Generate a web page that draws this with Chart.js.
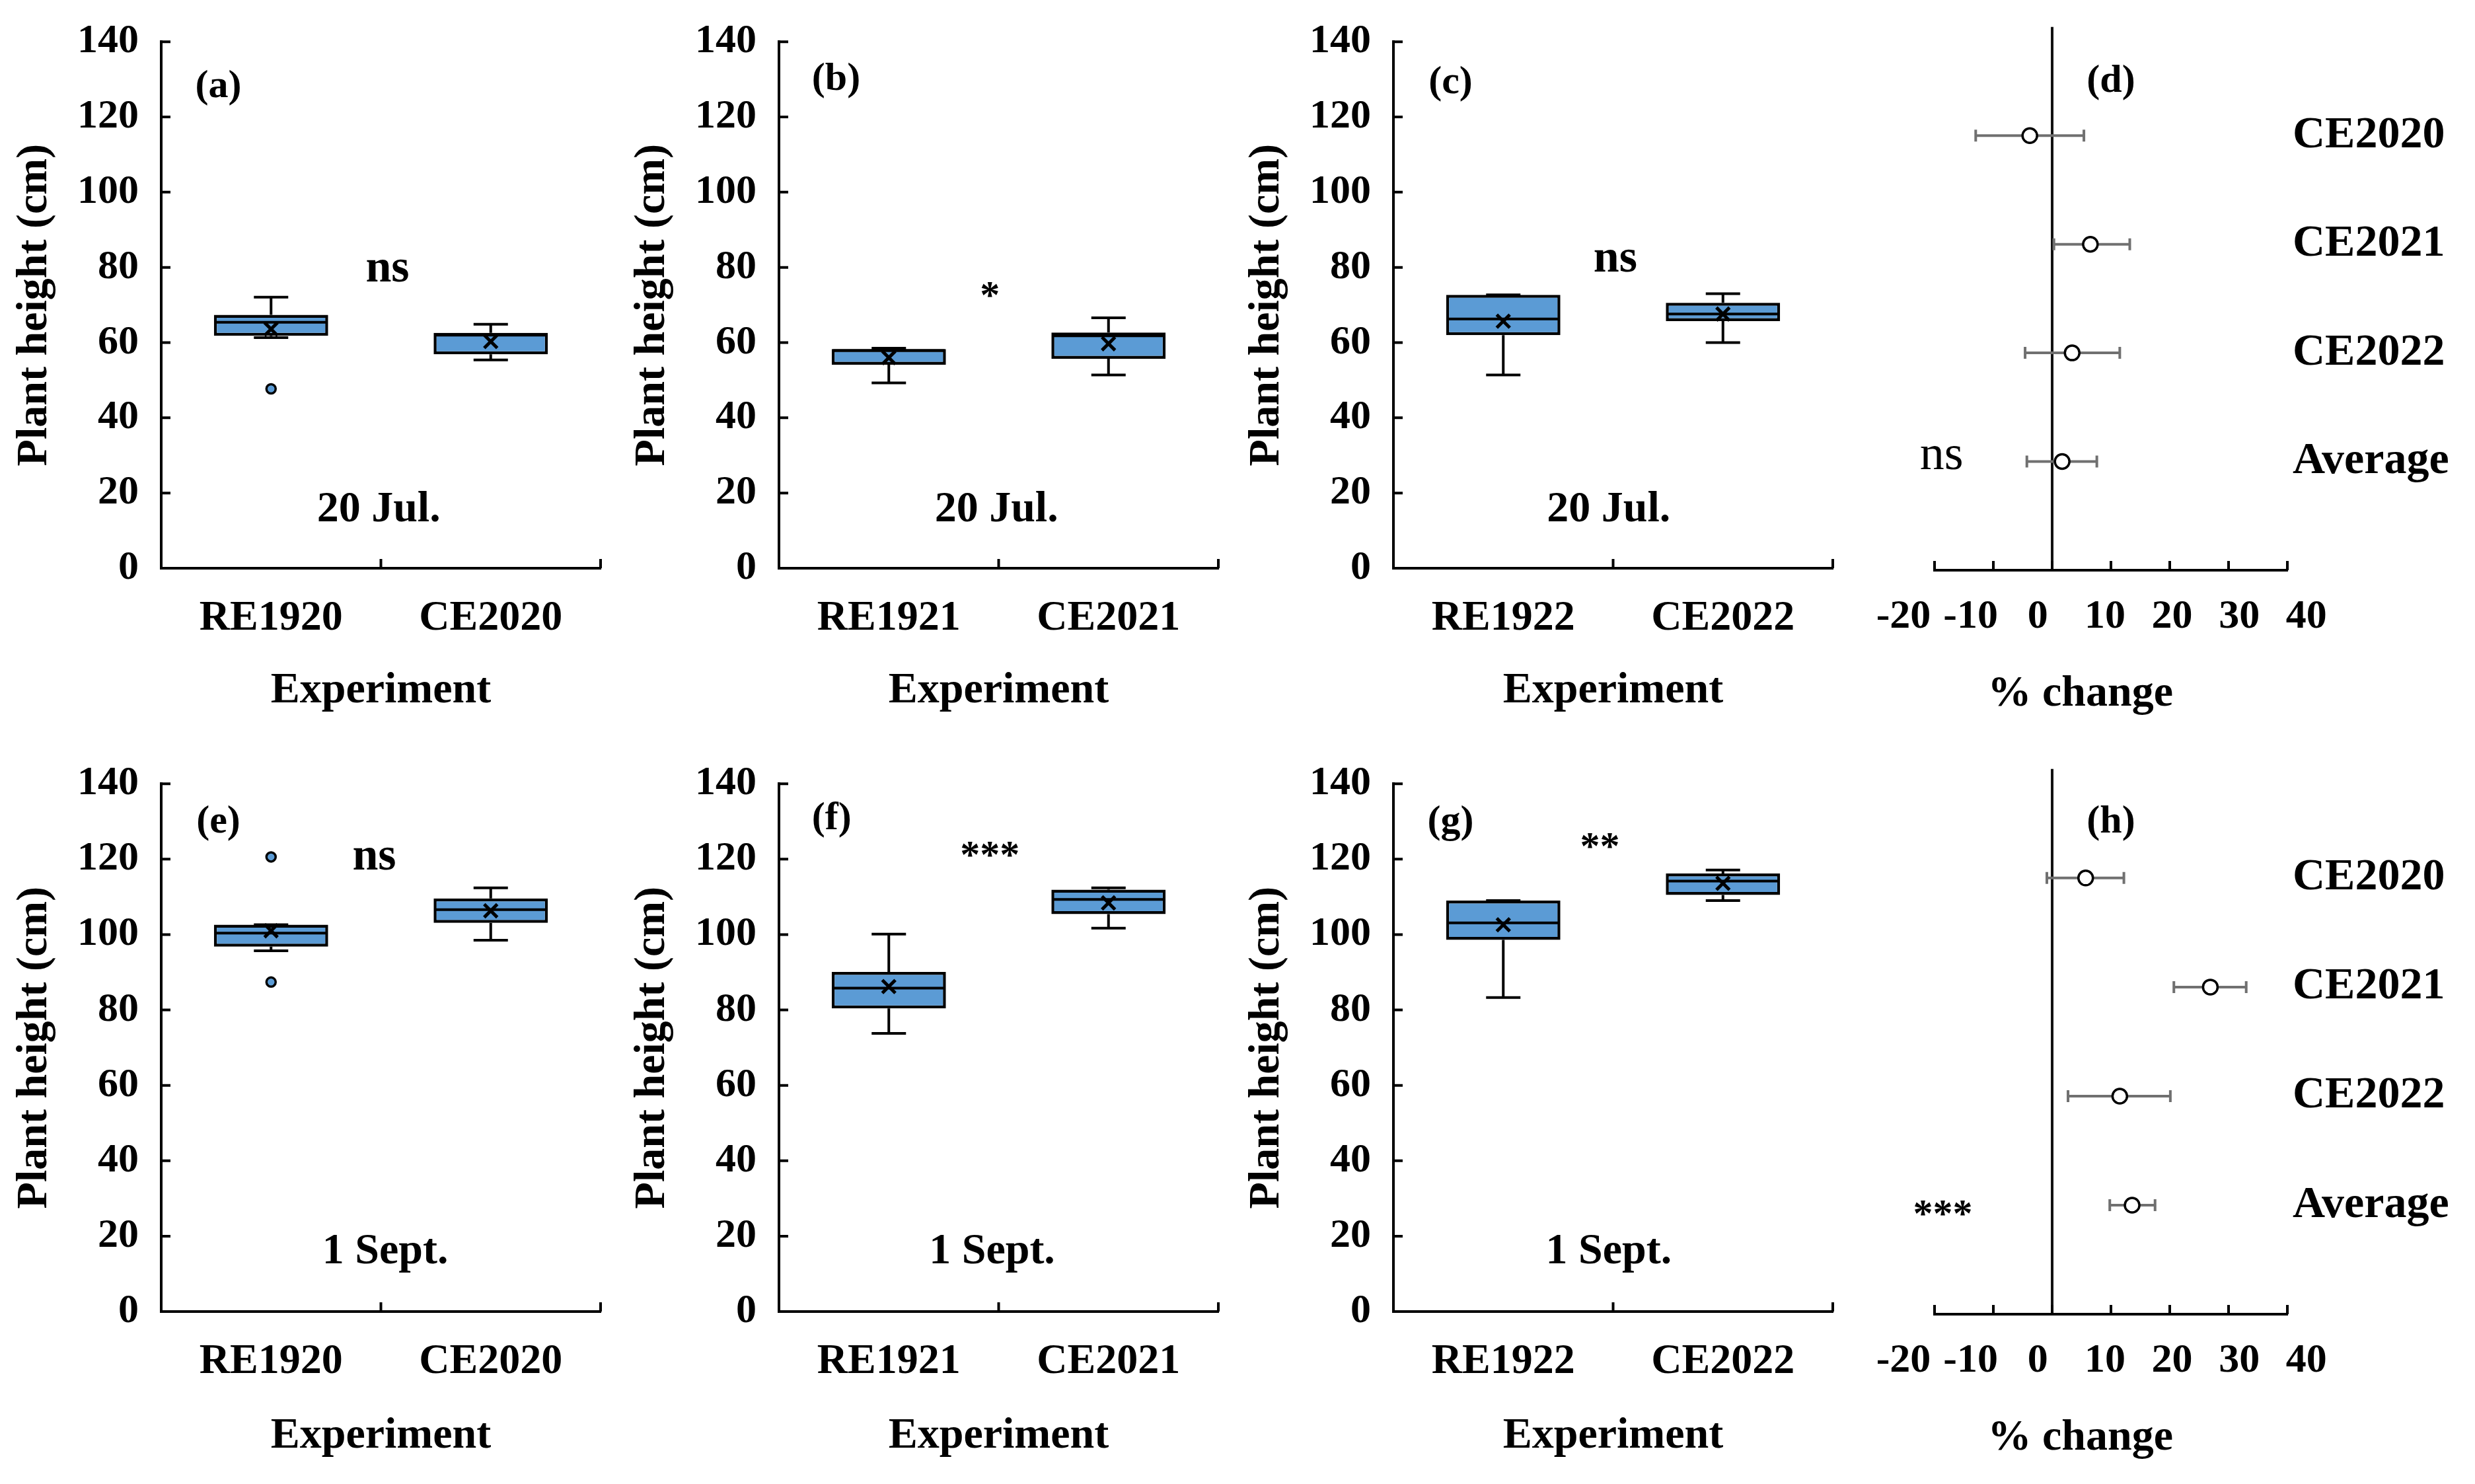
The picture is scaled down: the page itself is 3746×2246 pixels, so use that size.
<!DOCTYPE html>
<html>
<head>
<meta charset="utf-8">
<script src="https://cdn.jsdelivr.net/npm/chart.js@4.4.1/dist/chart.umd.min.js"></script>
<style>
    html, body { margin: 0; padding: 0; background: #fff; }
    #fig { position: relative; width: 3746px; height: 2246px; overflow: hidden; background: #fff; }
    #fig canvas { position: absolute; }
</style>
</head>
<body>
<div id="fig"></div>
<script>
// ---------- data ----------
const experimentLabels = [["RE1920", "CE2020"], ["RE1921", "CE2021"], ["RE1922", "CE2022"]];
const heightTicks = [0, 20, 40, 60, 80, 100, 120, 140];

// 20 Jul. (panels a-c)
const julMin = [[61.3, 55.4], [49.3, 51.4], [51.4, 60.0]];
const julQ1 = [[61.8, 56.9], [54.1, 55.7], [62.0, 65.7]];
const julMedian = [[65.4, 62.0], [57.9, 61.8], [66.3, 67.6]];
const julQ3 = [[67.4, 62.6], [58.3, 62.7], [72.7, 70.6]];
const julMax = [[72.1, 64.9], [58.5, 66.6], [72.7, 73.0]];
const julMean = [[63.6, 60.3], [56.0, 59.7], [65.7, 67.6]];
const julOutliers = [[[47.7], []], [[], []], [[], []]];

// 1 Sept. (panels e-g)
const sepMin = [[95.7, 98.5], [73.8, 101.7], [83.3, 109.0]];
const sepQ1 = [[96.8, 103.1], [80.4, 105.4], [98.6, 110.5]];
const sepMedian = [[100.4, 106.6], [85.8, 109.3], [103.1, 114.2]];
const sepQ3 = [[102.6, 109.6], [90.1, 111.9], [109.0, 116.2]];
const sepMax = [[102.6, 112.4], [100.1, 112.4], [109.0, 117.1]];
const sepMean = [[101.0, 106.3], [86.2, 108.4], [102.6, 113.6]];
const sepOutliers = [[[120.6, 87.4], []], [[], []], [[], []]];

// % change (panels d, h)
const changeLabels = ["CE2020", "CE2021", "CE2022", "Average"];
const changeTicks = [-20, -10, 0, 10, 20, 30, 40];
const julChange = [-3.8, 6.5, 3.4, 1.7];
const julChangeLow = [-13.0, 0.3, -4.6, -4.3];
const julChangeHigh = [5.4, 13.2, 11.5, 7.6];
const sepChange = [5.7, 26.9, 11.5, 13.6];
const sepChangeLow = [-0.9, 20.7, 2.7, 9.8];
const sepChangeHigh = [12.2, 33.0, 20.1, 17.5];

// ---------- look ----------
const FONT = "'Liberation Serif', 'Times New Roman', serif";
const BOX_BLUE = "#5B9BD5";
Chart.defaults.font.family = FONT;
Chart.defaults.font.weight = "bold";
Chart.defaults.color = "#000";

const fig = document.getElementById("fig");
const rowTop = [0, 1123];
const axisLeft = [244, 1179, 2109]; // x of each box panel's y axis
const ROW_H = 1123;

function makeCanvas(left, top, w, h) {
    const c = document.createElement("canvas");
    c.width = w;
    c.height = h;
    c.style.left = left + "px";
    c.style.top = top + "px";
    c.style.width = w + "px";
    c.style.height = h + "px";
    fig.appendChild(c);
    return c;
}

function drawNotes(ctx, xs, ys, notes) {
    ctx.save();
    ctx.fillStyle = "#000";
    ctx.textAlign = "center";
    ctx.textBaseline = "middle";
    notes.forEach(n => {
        ctx.font = `${n.weight || "bold"} ${n.size}px ${FONT}`;
        ctx.fillText(n.text, xs.getPixelForValue(n.x), ys.getPixelForValue(n.y));
    });
    ctx.restore();
}

// box-plot pieces the bar element does not draw: whiskers, medians, inward ticks, notes
function boxParts(p) {
    return {
        id: "boxParts",
        beforeDatasetsDraw(chart) {
            const { ctx, scales: { x, y } } = chart;
            ctx.save();
            ctx.strokeStyle = "#000";
            ctx.lineWidth = 4;
            p.labels.forEach((_, i) => {
                const cx = x.getPixelForValue(i);
                ctx.beginPath();
                ctx.moveTo(cx, y.getPixelForValue(p.q3[i]));
                ctx.lineTo(cx, y.getPixelForValue(p.max[i]));
                ctx.moveTo(cx, y.getPixelForValue(p.q1[i]));
                ctx.lineTo(cx, y.getPixelForValue(p.min[i]));
                [p.max[i], p.min[i]].forEach(v => {
                    const py = y.getPixelForValue(v);
                    ctx.moveTo(cx - 26, py);
                    ctx.lineTo(cx + 26, py);
                });
                ctx.stroke();
            });
            ctx.restore();
        },
        afterDatasetsDraw(chart) {
            const { ctx, scales: { y } } = chart;
            const meta = chart.getDatasetMeta(2);
            ctx.save();
            ctx.strokeStyle = "#000";
            ctx.lineWidth = 4;
            meta.data.forEach((bar, i) => {
                const py = y.getPixelForValue(p.median[i]);
                ctx.beginPath();
                ctx.moveTo(bar.x - bar.width / 2 + 2, py);
                ctx.lineTo(bar.x + bar.width / 2 - 2, py);
                ctx.stroke();
            });
            ctx.restore();
        },
        afterDraw(chart) {
            const { ctx, chartArea: a, scales: { x, y } } = chart;
            ctx.save();
            ctx.strokeStyle = "#000";
            ctx.lineWidth = 4;
            ctx.beginPath();
            heightTicks.forEach(v => {
                const py = y.getPixelForValue(v);
                ctx.moveTo(a.left, py);
                ctx.lineTo(a.left + 14, py);
            });
            [0.5, 1.5].forEach(v => {
                const px = x.getPixelForValue(v);
                ctx.moveTo(px, a.bottom);
                ctx.lineTo(px, a.bottom - 14);
            });
            ctx.stroke();
            ctx.restore();
            drawNotes(ctx, x, y, p.notes);
        }
    };
}

function boxPanel(row, col, p) {
    const top = rowTop[row];
    const padTop = row === 0 ? 53 : 57;
    const bottomAxis = row === 0 ? 860 : 862;
    const canvas = makeCanvas(axisLeft[col] - 244, top, 945, ROW_H);
    const outlierPoints = p.outliers.flatMap((arr, j) => arr.map(v => ({ x: p.labels[j], y: v })));
    new Chart(canvas, {
        type: "bar",
        data: {
            labels: p.labels,
            datasets: [
                {
                    type: "line",
                    data: p.mean,
                    showLine: false,
                    pointStyle: "crossRot",
                    pointRadius: 14,
                    borderColor: "#000",
                    borderWidth: 5,
                    order: 1
                },
                {
                    type: "line",
                    data: outlierPoints,
                    showLine: false,
                    pointStyle: "circle",
                    pointRadius: 7,
                    backgroundColor: BOX_BLUE,
                    borderColor: "#000",
                    borderWidth: 3.5,
                    order: 2
                },
                {
                    data: p.labels.map((_, i) => [p.q1[i], p.q3[i]]),
                    backgroundColor: BOX_BLUE,
                    borderColor: "#000",
                    borderWidth: 4.5,
                    borderSkipped: false,
                    barPercentage: 0.52,
                    categoryPercentage: 1,
                    order: 3
                }
            ]
        },
        options: {
            responsive: false,
            devicePixelRatio: 1,
            animation: false,
            events: [],
            layout: { padding: { left: 0, right: 36, top: padTop, bottom: 0 } },
            plugins: { legend: { display: false }, tooltip: { enabled: false } },
            scales: {
                x: {
                    offset: true,
                    grid: { display: false },
                    border: { display: true, color: "#000", width: 4 },
                    ticks: { font: { size: 64 }, padding: 30, maxRotation: 0, autoSkip: false },
                    title: { display: true, text: "Experiment", font: { size: 66 }, padding: { bottom: row === 0 ? 37 : 32 } },
                    afterFit: s => { s.height = ROW_H - bottomAxis; }
                },
                y: {
                    min: 0,
                    max: 140,
                    afterBuildTicks: s => { s.ticks = heightTicks.map(v => ({ value: v })); },
                    grid: { display: false },
                    border: { display: true, color: "#000", width: 4 },
                    ticks: { font: { size: 62 }, padding: 26 },
                    title: { display: true, text: "Plant height (cm)", font: { size: 66 }, padding: { top: 13 } },
                    afterFit: s => { s.width = 244; }
                }
            }
        },
        plugins: [boxParts(p)]
    });
}

// forest plot: zero line, error bars, inward ticks, tick labels, notes
function forestParts(p) {
    return {
        id: "forestParts",
        beforeDatasetsDraw(chart) {
            const { ctx, chartArea: a, scales: { x, y } } = chart;
            ctx.save();
            ctx.strokeStyle = "#111";
            ctx.lineWidth = 4;
            ctx.beginPath();
            ctx.moveTo(x.getPixelForValue(0), a.top);
            ctx.lineTo(x.getPixelForValue(0), a.bottom);
            ctx.stroke();
            ctx.strokeStyle = "#707070";
            ctx.lineWidth = 4;
            p.change.forEach((_, i) => {
                const py = y.getPixelForValue(i + 1);
                const x0 = x.getPixelForValue(p.low[i]);
                const x1 = x.getPixelForValue(p.high[i]);
                ctx.beginPath();
                ctx.moveTo(x0, py);
                ctx.lineTo(x1, py);
                ctx.moveTo(x0, py - 9);
                ctx.lineTo(x0, py + 9);
                ctx.moveTo(x1, py - 9);
                ctx.lineTo(x1, py + 9);
                ctx.stroke();
            });
            ctx.restore();
        },
        afterDraw(chart) {
            const { ctx, chartArea: a, scales: { x, y } } = chart;
            ctx.save();
            ctx.strokeStyle = "#000";
            ctx.lineWidth = 4;
            ctx.beginPath();
            changeTicks.forEach(v => {
                const px = x.getPixelForValue(v);
                ctx.moveTo(px, a.bottom);
                ctx.lineTo(px, a.bottom - 14);
            });
            ctx.stroke();
            // the tick labels in the figure sit on a slightly wider spacing than the tick marks
            ctx.fillStyle = "#000";
            ctx.textAlign = "center";
            ctx.textBaseline = "middle";
            ctx.font = `bold 62px ${FONT}`;
            changeTicks.forEach(v => {
                const px = a.left - 47 + (x.getPixelForValue(v) - a.left) * 1.142;
                ctx.fillText(String(v), px, a.bottom + 71);
            });
            ctx.font = `bold 66px ${FONT}`;
            ctx.fillText("% change", x.getPixelForValue(4.8), a.bottom + 188);
            ctx.restore();
            drawNotes(ctx, x, y, p.notes);
        }
    };
}

function forestPanel(row, p) {
    const padTop = row === 0 ? 32 : 37;
    const bottomAxis = row === 0 ? 863 : 866;
    const canvas = makeCanvas(2800, rowTop[row], 946, ROW_H);
    new Chart(canvas, {
        type: "scatter",
        data: {
            datasets: [{
                data: p.change.map((v, i) => ({ x: v, y: i + 1 })),
                pointStyle: "circle",
                pointRadius: 11,
                backgroundColor: "#fff",
                borderColor: "#000",
                borderWidth: 3.5
            }]
        },
        options: {
            responsive: false,
            devicePixelRatio: 1,
            animation: false,
            events: [],
            layout: { padding: { left: 128, right: 0, top: padTop, bottom: 0 } },
            plugins: { legend: { display: false }, tooltip: { enabled: false } },
            scales: {
                x: {
                    type: "linear",
                    min: -20,
                    max: 40,
                    grid: { display: false },
                    border: { display: true, color: "#000", width: 4 },
                    ticks: { display: false },
                    afterFit: s => { s.height = ROW_H - bottomAxis; }
                },
                y: {
                    type: "linear",
                    position: "right",
                    min: 0,
                    max: 5,
                    reverse: true,
                    afterBuildTicks: s => { s.ticks = changeLabels.map((_, i) => ({ value: i + 1 })); },
                    grid: { display: false },
                    border: { display: false },
                    ticks: {
                        font: { size: 68 },
                        padding: 0,
                        crossAlign: "near",
                        callback: v => changeLabels[v - 1]
                    },
                    afterFit: s => { s.width = 284; }
                }
            }
        },
        plugins: [forestParts(p)]
    });
}

const julDates = [
    [{ text: "(a)", x: -0.24, y: 128, size: 60 }, { text: "ns", x: 0.53, y: 79.5, size: 70 }, { text: "20 Jul.", x: 0.49, y: 15.5, size: 66 }],
    [{ text: "(b)", x: -0.24, y: 130, size: 60 }, { text: "*", x: 0.46, y: 72, size: 60 }, { text: "20 Jul.", x: 0.49, y: 15.5, size: 66 }],
    [{ text: "(c)", x: -0.24, y: 129, size: 60 }, { text: "ns", x: 0.51, y: 82, size: 70 }, { text: "20 Jul.", x: 0.48, y: 15.5, size: 66 }]
];
const sepDates = [
    [{ text: "(e)", x: -0.24, y: 129.7, size: 60 }, { text: "ns", x: 0.47, y: 120.5, size: 70 }, { text: "1 Sept.", x: 0.52, y: 15.7, size: 66 }],
    [{ text: "(f)", x: -0.26, y: 130.6, size: 60 }, { text: "***", x: 0.46, y: 120.5, size: 60 }, { text: "1 Sept.", x: 0.47, y: 15.7, size: 66 }],
    [{ text: "(g)", x: -0.24, y: 129.7, size: 60 }, { text: "**", x: 0.44, y: 122.8, size: 60 }, { text: "1 Sept.", x: 0.48, y: 15.7, size: 66 }]
];

experimentLabels.forEach((labels, c) => {
    boxPanel(0, c, {
        labels, min: julMin[c], q1: julQ1[c], median: julMedian[c], q3: julQ3[c],
        max: julMax[c], mean: julMean[c], outliers: julOutliers[c], notes: julDates[c]
    });
    boxPanel(1, c, {
        labels, min: sepMin[c], q1: sepQ1[c], median: sepMedian[c], q3: sepQ3[c],
        max: sepMax[c], mean: sepMean[c], outliers: sepOutliers[c], notes: sepDates[c]
    });
});

forestPanel(0, {
    change: julChange, low: julChangeLow, high: julChangeHigh,
    notes: [{ text: "(d)", x: 10, y: 0.5, size: 60 }, { text: "ns", x: -18.8, y: 3.95, size: 74, weight: "normal" }]
});
forestPanel(1, {
    change: sepChange, low: sepChangeLow, high: sepChangeHigh,
    notes: [{ text: "(h)", x: 10, y: 0.49, size: 60 }, { text: "***", x: -18.6, y: 4.1, size: 60 }]
});
</script>
</body>
</html>
